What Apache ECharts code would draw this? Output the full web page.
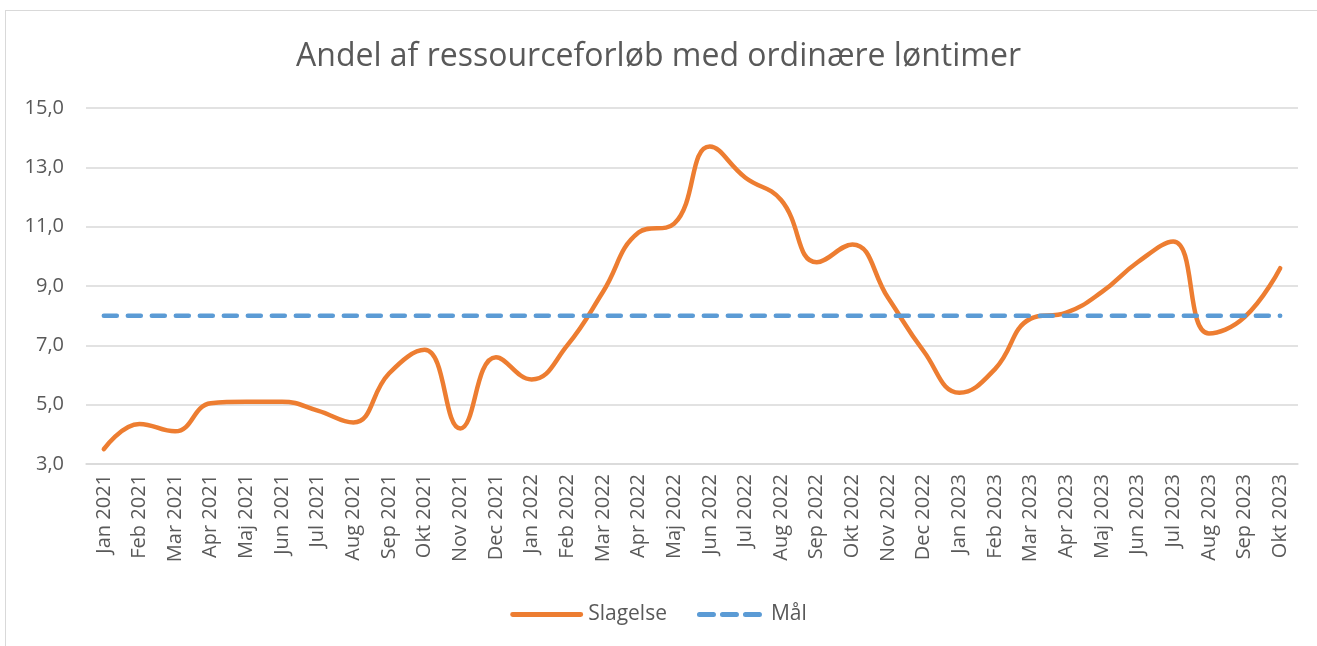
<!DOCTYPE html>
<html>
<head>
<meta charset="utf-8">
<script src="https://cdn.jsdelivr.net/npm/echarts@6/dist/echarts.min.js"></script>
<style>
  html, body { margin: 0; padding: 0; background: #fff; }
  #frame { position: absolute; left: 5px; top: 10px; width: 1330px; height: 660px; border: 1px solid #d9d9d9; }
  #main { position: absolute; left: 0; top: 0; width: 1317px; height: 646px; }
</style>
</head>
<body>
<div id="frame"></div>
<div id="main"></div>
<script>
// måneder jan 2021 - okt 2023
var months = ['Jan 2021','Feb 2021','Mar 2021','Apr 2021','Maj 2021','Jun 2021','Jul 2021','Aug 2021','Sep 2021','Okt 2021','Nov 2021','Dec 2021',
  'Jan 2022','Feb 2022','Mar 2022','Apr 2022','Maj 2022','Jun 2022','Jul 2022','Aug 2022','Sep 2022','Okt 2022','Nov 2022','Dec 2022',
  'Jan 2023','Feb 2023','Mar 2023','Apr 2023','Maj 2023','Jun 2023','Jul 2023','Aug 2023','Sep 2023','Okt 2023'];

var slagelse = [3.5, 4.35, 4.1, 5.05, 5.1, 5.1, 4.8, 4.4, 6.05, 6.85, 4.2, 6.6,
  5.85, 7.0, 8.8, 10.8, 11.1, 13.7, 12.65, 11.9, 9.8, 10.4, 8.6, 6.8,
  5.4, 6.2, 7.9, 8.1, 8.8, 9.8, 10.5, 7.4, 7.95, 9.6];

var maal = months.map(function () { return 8; });

var myChart = echarts.init(document.getElementById('main'));

var textColor = '#595959';
var font = 'Open Sans';

// legend-ikoner: hel streg og tre streger
var solidIcon = 'path://M2,0h69a2,2 0 0 1 0,5h-69a2,2 0 0 1 0,-5z';
var dashIcon = 'path://M2,0h14a2,2 0 0 1 0,5h-14a2,2 0 0 1 0,-5z M25,0h14a2,2 0 0 1 0,5h-14a2,2 0 0 1 0,-5z M48,0h14a2,2 0 0 1 0,5h-14a2,2 0 0 1 0,-5z';

var option = {
  animation: false,
  title: {
    text: 'Andel af ressourceforløb med ordinære løntimer',
    left: 'center',
    top: 36,
    textStyle: { fontFamily: font, fontWeight: 'normal', fontSize: 32, color: textColor }
  },
  legend: {
    bottom: 16,
    left: 'center',
    itemWidth: 73,
    itemHeight: 5,
    itemGap: 30,
    textStyle: { fontFamily: font, fontSize: 21, color: textColor },
    data: [
      { name: 'Slagelse', icon: solidIcon },
      { name: 'Mål', icon: dashIcon, itemStyle: { color: '#5B9BD5' } }
    ]
  },
  grid: { left: 86, right: 19, top: 108, bottom: 182 },
  xAxis: {
    type: 'category',
    data: months,
    boundaryGap: true,
    axisLine: { lineStyle: { color: '#d9d9d9', width: 1.5 } },
    axisTick: { show: false },
    axisLabel: { rotate: 90, interval: 0, margin: 10, fontFamily: font, fontSize: 20, color: textColor }
  },
  yAxis: {
    type: 'value',
    min: 3,
    max: 15,
    interval: 2,
    axisLine: { show: false },
    axisTick: { show: false },
    splitLine: { lineStyle: { color: '#d9d9d9', width: 1.5 } },
    axisLabel: {
      margin: 22, fontFamily: font, fontSize: 20, color: textColor,
      formatter: function (v) { return v.toFixed(1).replace('.', ','); }
    }
  },
  series: [
    {
      name: 'Slagelse',
      type: 'line',
      data: slagelse,
      smooth: 0.45,
      symbol: 'none',
      itemStyle: { color: '#ED7D31' },
      lineStyle: { color: '#ED7D31', width: 4.5, cap: 'round' }
    },
    {
      name: 'Mål',
      type: 'line',
      data: maal,
      symbol: 'none',
      itemStyle: { color: '#5B9BD5' },
      lineStyle: { color: '#5B9BD5', width: 4.5, type: [13, 11], cap: 'round' }
    }
  ]
};

myChart.setOption(option);
</script>
</body>
</html>
